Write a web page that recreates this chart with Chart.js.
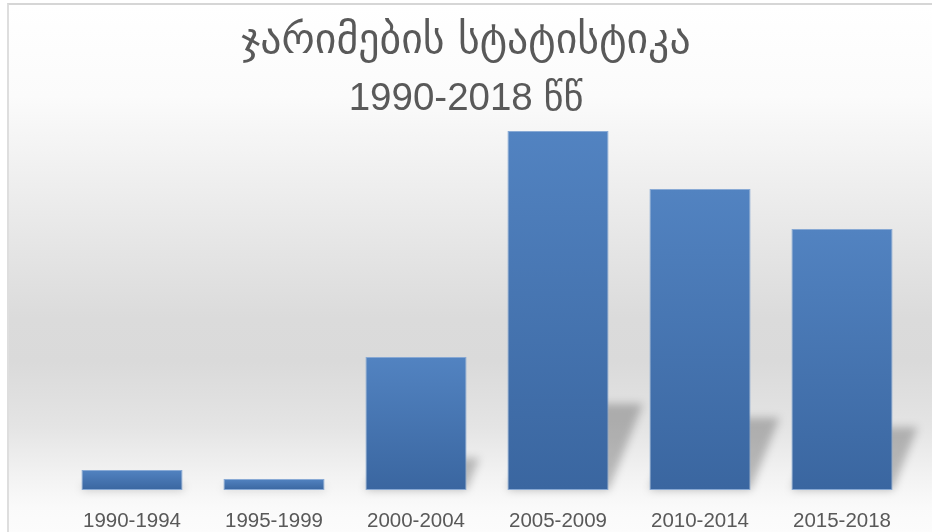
<!DOCTYPE html>
<html>
<head>
<meta charset="utf-8">
<script src="https://cdn.jsdelivr.net/npm/chart.js@4.4.1/dist/chart.umd.min.js"></script>
<style>
  html, body { margin: 0; padding: 0; background: #fff; }
  #frame {
    position: absolute; left: 7px; top: 3px; width: 940px; height: 540px;
    border-top: 2px solid #d6d6d6; border-left: 2px solid #dedede;
    background: linear-gradient(to bottom, #ffffff 0%, #fbfbfb 17%, #ececec 36%, #dbdbdb 58%, #dadada 66%, #e4e4e4 78%, #f2f2f2 87%, #fafafa 93%, #fdfdfd 100%);
  }
  #wrap { position: absolute; left: 0; top: 0; width: 932px; height: 532px; }
</style>
</head>
<body>
<div id="frame"></div>
<div id="wrap"><canvas id="fines" width="932" height="532"></canvas></div>
<script>
const periods = ['1990-1994', '1995-1999', '2000-2004', '2005-2009', '2010-2014', '2015-2018'];
const fineCounts = [20, 11, 133, 359, 301, 261];
const titleText = 'ჯარიმების სტატისტიკა';
const subtitleText = '1990-2018 წწ';

const BAR_TOP = '#5283c1';
const BAR_BOTTOM = '#3a66a0';
const TEXT = '#595959';
const FONT = "'Liberation Sans', 'DejaVu Sans'";

// soft slanted shadow cast behind each bar, to the upper right
const barShadow = {
  id: 'barShadow',
  beforeDatasetsDraw(chart) {
    const ctx = chart.ctx;
    const meta = chart.getDatasetMeta(0);
    ctx.save();
    ctx.filter = 'blur(4px)';
    ctx.fillStyle = 'rgba(0,0,0,0.24)';
    meta.data.forEach(bar => {
      const h = bar.base - bar.y;
      const sh = h * 0.24;
      const dx = sh * 0.4;
      const l = bar.x - bar.width / 2, r = bar.x + bar.width / 2;
      ctx.beginPath();
      ctx.moveTo(l, bar.base);
      ctx.lineTo(r, bar.base);
      ctx.lineTo(r + dx, bar.base - sh);
      ctx.lineTo(l + dx, bar.base - sh);
      ctx.closePath();
      ctx.fill();
    });
    ctx.restore();
  }
};

// vertical gradient fitted to each bar's own height
function barFill(c) {
  if (!c.parsed || !c.chart.chartArea) return BAR_TOP;
  const y = c.chart.scales.y;
  const top = y.getPixelForValue(c.parsed.y), base = y.getPixelForValue(0);
  if (!isFinite(top) || !isFinite(base)) return BAR_TOP;
  const g = c.chart.ctx.createLinearGradient(0, top, 0, base);
  g.addColorStop(0, BAR_TOP);
  g.addColorStop(1, BAR_BOTTOM);
  return g;
}

new Chart(document.getElementById('fines'), {
  type: 'bar',
  data: {
    labels: periods,
    datasets: [{
      data: fineCounts,
      backgroundColor: barFill,
      borderColor: 'rgba(125,162,210,0.9)',
      borderWidth: 1,
      borderSkipped: false,
      categoryPercentage: 1,
      barPercentage: 0.712
    }]
  },
  options: {
    responsive: false,
    animation: false,
    layout: { padding: { left: 19, right: 19, top: 0, bottom: 0 } },
    plugins: {
      legend: { display: false },
      tooltip: { enabled: false },
      title: {
        display: true,
        text: titleText,
        color: TEXT,
        font: { family: "'DejaVu Sans'", size: 41.8, weight: 'normal', lineHeight: 1.2 },
        padding: { top: 17, bottom: 0 }
      },
      subtitle: {
        display: true,
        text: subtitleText,
        color: TEXT,
        font: { family: FONT, size: 38.5, weight: 'normal', lineHeight: 1.2 },
        padding: { top: 9, bottom: 8.6 }
      }
    },
    scales: {
      x: {
        grid: { display: false, drawTicks: false },
        border: { display: false },
        ticks: {
          color: TEXT,
          padding: 19,
          font: { family: FONT, size: 20.5 }
        },
        afterFit: s => { s.height = 42; }
      },
      // hidden value axis; it only reserves the empty strip on the left
      y: {
        min: 0, max: 359,
        grid: { display: false, drawTicks: false },
        border: { display: false },
        ticks: { display: false },
        afterFit: s => { s.width = 42; }
      }
    }
  },
  plugins: [barShadow]
});
</script>
</body>
</html>
